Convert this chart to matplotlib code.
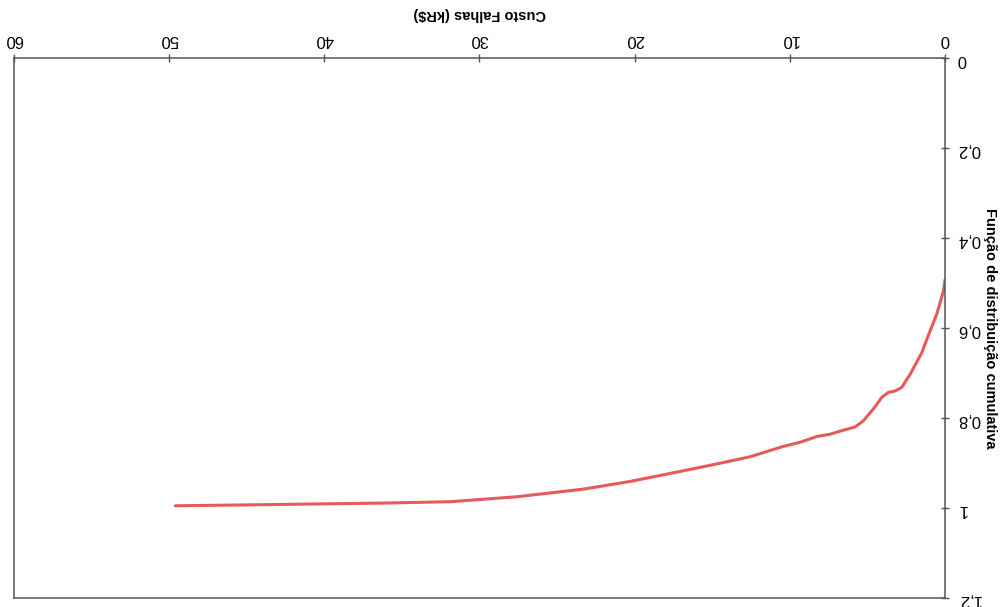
# coding:utf-8
import matplotlib
matplotlib.use("Agg")
import matplotlib.pyplot as plt
from matplotlib.ticker import FixedLocator, FuncFormatter

plt.rcParams['font.family'] = ['Liberation Sans', 'DejaVu Sans']

# curva (digitalizada de cabeca para baixo)
custo = [0, 0.11, 0.54, 0.97, 1.50, 2.25, 2.79, 3.22, 3.65, 4.07, 4.62, 5.26, 5.80,
         6.55, 7.40, 8.26, 9.34, 10.41, 12.56, 14.70, 17.4, 20.3, 23.3, 27.6, 31.9,
         36.2, 40.5, 44.8, 49.6]
fdc = [0.493, 0.519, 0.570, 0.607, 0.655, 0.703, 0.732, 0.740, 0.743, 0.754, 0.780, 0.806, 0.820,
       0.827, 0.836, 0.841, 0.854, 0.863, 0.886, 0.902, 0.921, 0.941, 0.958, 0.975, 0.986,
       0.989, 0.991, 0.993, 0.995]

x_ticks = [0, 10, 20, 30, 40, 50, 60]
y_ticks = [0, 0.2, 0.4, 0.6, 0.8, 1.0, 1.2]


def virgula(v, pos):
    s = '{:g}'.format(round(v, 2))
    return s.replace('.', ',')


if __name__ == "__main__":
    fig = plt.figure(figsize=(10.05, 6.07), dpi=100)
    ax = fig.add_axes([0.0139, 0.0148, 0.9264, 0.8896])

    ax.plot(custo, fdc, color='#e85a5a', linewidth=2.2,
            solid_capstyle='round', solid_joinstyle='round')

    # figura girada 180 graus
    ax.set_xlim(60, 0)
    ax.set_ylim(1.2, 0)
    ax.xaxis.tick_top()
    ax.yaxis.tick_right()
    ax.xaxis.set_major_locator(FixedLocator(x_ticks))
    ax.yaxis.set_major_locator(FixedLocator(y_ticks))
    ax.yaxis.set_major_formatter(FuncFormatter(virgula))
    ax.tick_params(axis='both', direction='inout', length=6, width=1,
                   color='#555555', labelsize=12, labelrotation=180)
    ax.tick_params(axis='x', pad=5)
    ax.tick_params(axis='y', pad=6)

    for s in ax.spines.values():
        s.set_color('#555555')
        s.set_linewidth(1.1)

    ax.set_xlabel("Custo Falhas (kR$)", fontsize=10.5, fontweight='bold', rotation=180, labelpad=10)
    ax.xaxis.set_label_position('top')
    ax.set_ylabel("Função de distribuição cumulativa", fontsize=10.5, fontweight='bold',
                  rotation=270, labelpad=12)
    ax.yaxis.set_label_position('right')

    fig.savefig("out.png", dpi=100)
